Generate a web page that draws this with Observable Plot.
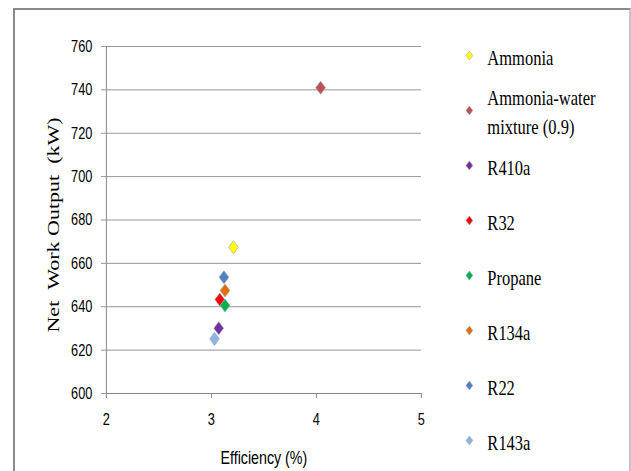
<!DOCTYPE html>
<html><head><meta charset="utf-8">
<script src="https://cdn.jsdelivr.net/npm/d3@7"></script>
<script src="https://cdn.jsdelivr.net/npm/@observablehq/plot@0.6"></script>
<style>
body{margin:0;background:#fff;width:631px;height:471px;overflow:hidden;position:relative;}
#frame{position:absolute;left:13px;top:8px;width:618px;height:480px;border:2px solid #8a8a8a;border-bottom:none;border-right-color:#c4c4c4;box-sizing:border-box}
#chart{position:absolute;left:0;top:0;width:700px}
#legend{position:absolute;left:440px;top:0;width:300px}
#chart svg,#legend svg{transform:scaleX(0.75);transform-origin:0 0;overflow:visible;max-width:none !important}
</style></head>
<body>
<div id="frame"></div>
<div id="chart"></div>
<div id="legend"></div>
<script>
const refrigerants = ["Ammonia","Ammonia-water mixture (0.9)","R410a","R32","Propane","R134a","R22","R143a"];
const legendLabels = ["Ammonia","Ammonia-water\nmixture (0.9)","R410a","R32","Propane","R134a","R22","R143a"];
const efficiency = [3.21, 4.04, 3.07, 3.08, 3.13, 3.13, 3.12, 3.03];
const netWork = [667.4, 741.0, 630.1, 643.3, 640.6, 647.5, 653.6, 625.2];
const colors = ["#FFFF00","#C0504D","#7030A0","#FF0000","#00B050","#E46C0A","#4F81BD","#8DB4E2"];
const xTicks = [2, 3, 4, 5];
const yTicks = [600, 620, 640, 660, 680, 700, 720, 740, 760];
const yLabel = "Net\u00a0\u00a0Work Output\u00a0\u00a0(kW)";
const xLabel = "Efficiency (%)";

const data = refrigerants.map((name, i) => ({name, label: legendLabels[i], efficiency: efficiency[i], netWork: netWork[i]}));

const s = 0.75; // horizontal squeeze of the original picture
const grey = "#868686";
const sansFont = "'Liberation Sans', Arial, sans-serif";
const serifFont = "'Liberation Serif', 'Times New Roman', serif";

const chart = Plot.plot({
  width: 440 / s, height: 471,
  marginLeft: 106 / s, marginRight: 19 / s, marginTop: 46, marginBottom: 78,
  style: {fontFamily: sansFont, fontSize: "17px", color: "#000", background: "transparent"},
  x: {domain: [2, 5]},
  y: {domain: [600, 760]},
  color: {domain: refrigerants, range: colors},
  marks: [
    Plot.gridY(yTicks, {stroke: grey, strokeOpacity: 1}),
    Plot.ruleX([2], {stroke: grey, strokeWidth: 1.3}),
    Plot.ruleY([600], {stroke: grey}),
    Plot.axisY(yTicks, {tickSize: 5 / s, tickPadding: 9 / s, stroke: grey, fill: "#000", label: null,
      tickFormat: d => String(d), fontSize: 17}),
    Plot.text([yLabel], {text: d => d, frameAnchor: "left", textAnchor: "middle", rotate: -90, dx: -70, dy: 5,
      fontFamily: serifFont, fontSize: 22, fill: "#000"}),
    Plot.axisX(xTicks, {tickSize: 5, tickPadding: 14, stroke: grey, strokeWidth: 1.3, fill: "#000",
      tickFormat: d => String(d), fontSize: 17, label: null}),
    Plot.text([xLabel], {text: d => d, frameAnchor: "bottom", textAnchor: "middle", lineAnchor: "middle", dy: 64,
      fontFamily: sansFont, fontSize: 19, fill: "#000"}),
    Plot.dot(data, {x: "efficiency", y: "netWork", fill: "name", symbol: "diamond2", r: 5.9,
      stroke: "#9aa6b8", strokeWidth: 0.7})
  ]
});
document.getElementById("chart").append(chart);

const legend = Plot.plot({
  width: 191 / s, height: 471,
  marginLeft: 29 / s, marginRight: 0, marginTop: 55, marginBottom: 31,
  style: {fontFamily: serifFont, fontSize: "22px", color: "#000", background: "transparent"},
  y: {type: "point", domain: refrigerants, padding: 0, axis: null},
  color: {domain: refrigerants, range: colors},
  marks: [
    Plot.dot(data, {y: "name", fill: "name", frameAnchor: "left", symbol: "diamond2", r: 4.1,
      stroke: "#9aa6b8", strokeWidth: 0.6}),
    Plot.text(data, {y: "name", text: "label", frameAnchor: "left", dx: 24, textAnchor: "start",
      lineHeight: 1.32, fill: "#000", fontFamily: serifFont, fontSize: 22})
  ]
});
document.getElementById("legend").append(legend);
</script>
</body></html>
